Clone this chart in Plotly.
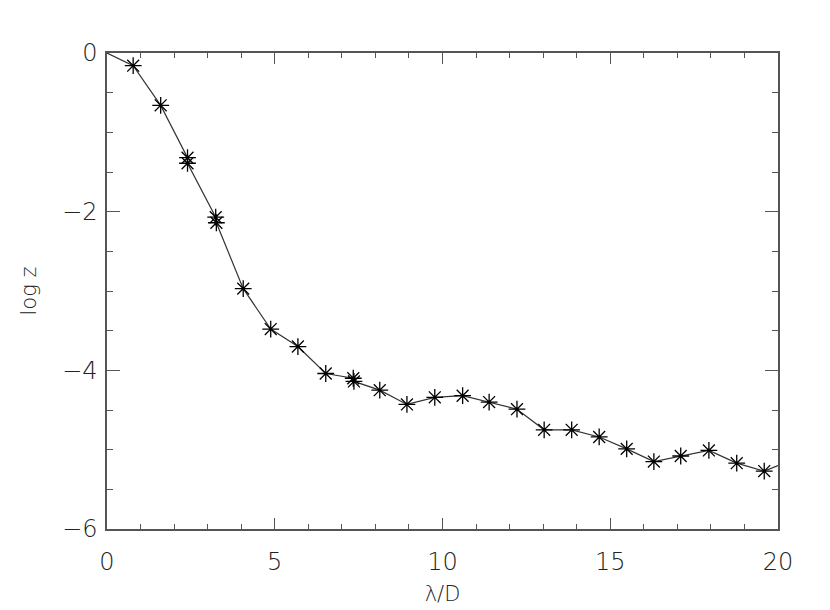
import plotly.graph_objects as go

# star positions (lambda/D, log z)
star_x = [0.78, 1.60, 2.40, 2.40, 3.24, 3.26, 4.06, 4.88, 5.69, 6.52, 7.34, 7.36,
          8.13, 8.94, 9.77, 10.60, 11.39, 12.22, 13.03, 13.85, 14.67, 15.49,
          16.30, 17.10, 17.94, 18.77, 19.59]
star_y = [-0.16, -0.66, -1.32, -1.39, -2.07, -2.14, -2.97, -3.48, -3.70, -4.04, -4.10, -4.14,
          -4.25, -4.43, -4.34, -4.32, -4.40, -4.49, -4.75, -4.75, -4.84, -4.99,
          -5.15, -5.08, -5.01, -5.17, -5.27]

# curve end points beyond the stars
line_x = [0.0] + star_x + [20.0]
line_y = [0.0] + star_y + [-5.20]

x_ticks = [0, 5, 10, 15, 20]
y_ticks = [-6, -4, -2, 0]

FONT = "DejaVu Sans"
INK = "#222222"

fig = go.Figure()
fig.add_trace(go.Scatter(
    x=line_x, y=line_y, mode="lines",
    line=dict(color="#333333", width=1.2),
    hoverinfo="skip",
))
fig.add_trace(go.Scatter(
    x=star_x, y=star_y, mode="markers",
    marker=dict(symbol="asterisk-open", size=14, color="black",
                line=dict(color="black", width=1.3)),
))

axis_common = dict(
    showline=True, linecolor="#555555", linewidth=1.5,
    mirror="ticks", ticks="inside", tickcolor="#555555", tickwidth=1.3,
    showgrid=False, zeroline=False,
    tickfont=dict(family=FONT, size=24, color=INK, weight=200),
)

fig.update_xaxes(
    range=[0, 20], tickvals=x_ticks, ticklen=11, ticklabelstandoff=10,
    minor=dict(dtick=1, ticklen=5, ticks="inside", tickcolor="#555555"),
    title=dict(text="λ/D", font=dict(family=FONT, size=21, color=INK, weight=200), standoff=12),
    **axis_common,
)
fig.update_yaxes(
    range=[-6, 0], tickvals=y_ticks, ticklen=13, ticklabelstandoff=3,
    minor=dict(dtick=0.5, ticklen=6, ticks="inside", tickcolor="#555555"),
    title=dict(text="log z", font=dict(family=FONT, size=21, color=INK, weight=200), standoff=20),
    **axis_common,
)

# the page body adds an 8px offset, so margins are shifted to compensate
fig.update_layout(
    width=830, height=610,
    margin=dict(l=99, r=60, t=45, b=89),
    plot_bgcolor="white", paper_bgcolor="white",
    showlegend=False,
)

fig.write_html("out.html")
